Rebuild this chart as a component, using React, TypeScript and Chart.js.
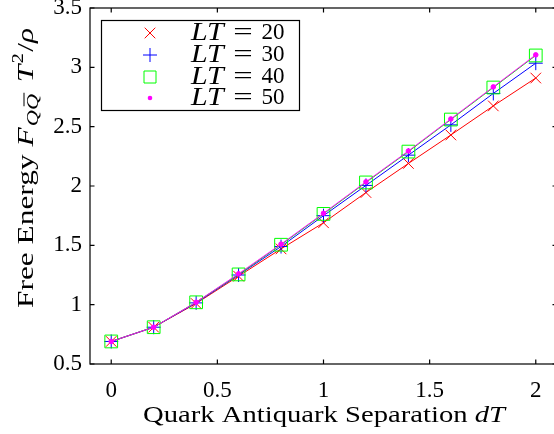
import React, { useEffect, useRef } from "react";
import { Chart, registerables } from "chart.js";

Chart.register(...registerables);

const separations = [0, 0.2, 0.4, 0.6, 0.8, 1.0, 1.2, 1.4, 1.6, 1.8, 2.0];
const energyLT20 = [0.69, 0.81, 1.01, 1.24, 1.47, 1.69, 1.945, 2.19, 2.43, 2.675, 2.91];
const energyLT30 = [0.69, 0.81, 1.015, 1.25, 1.49, 1.75, 2.005, 2.26, 2.515, 2.78, 3.035];
const energyLT40 = [0.69, 0.81, 1.02, 1.255, 1.505, 1.765, 2.03, 2.29, 2.56, 2.83, 3.1];
const energyLT50 = [0.69, 0.81, 1.02, 1.26, 1.51, 1.77, 2.035, 2.295, 2.565, 2.835, 3.105];
const seriesLT = ["20", "30", "40", "50"];
const xTicks = [0, 0.5, 1, 1.5, 2];
const yTicks = [0.5, 1, 1.5, 2, 2.5, 3, 3.5];

const FONT = "'Liberation Serif', 'Times New Roman', serif";
const COLORS = ["#ff0000", "#0000ff", "#00ff00", "#ff00ff"];

function drawMarker(ctx: CanvasRenderingContext2D, kind: number, x: number, y: number) {
  ctx.save();
  ctx.strokeStyle = COLORS[kind];
  ctx.fillStyle = COLORS[kind];
  ctx.lineWidth = 1;
  ctx.beginPath();
  if (kind === 0) {
    const h = 5.3;
    ctx.moveTo(x - h, y - h); ctx.lineTo(x + h, y + h);
    ctx.moveTo(x - h, y + h); ctx.lineTo(x + h, y - h);
    ctx.stroke();
  } else if (kind === 1) {
    const h = 7;
    ctx.moveTo(x - h, y); ctx.lineTo(x + h, y);
    ctx.moveTo(x, y - h); ctx.lineTo(x, y + h);
    ctx.stroke();
  } else if (kind === 2) {
    const h = 6;
    ctx.rect(x - h, y - h, 2 * h, 2 * h);
    ctx.stroke();
  } else {
    ctx.arc(x, y, 2.3, 0, Math.PI * 2);
    ctx.fill();
  }
  ctx.restore();
}

function stretchText(ctx: CanvasRenderingContext2D, t: string, x: number, y: number, sx: number) {
  ctx.save();
  ctx.translate(x, y);
  ctx.scale(sx, 1);
  ctx.fillText(t, 0, 0);
  ctx.restore();
}

const decorPlugin = {
  id: "decor",
  afterDraw(chart: any) {
    const ctx: CanvasRenderingContext2D = chart.ctx;
    const { left, right, top, bottom } = chart.chartArea;
    const xs = chart.scales.x;
    const ys = chart.scales.y;
    ctx.save();
    // box
    ctx.strokeStyle = "#000";
    ctx.lineWidth = 1.2;
    ctx.strokeRect(left, top, right - left, bottom - top);
    // inward ticks
    ctx.beginPath();
    const tl = 4.5;
    xTicks.forEach((v) => {
      const px = xs.getPixelForValue(v);
      ctx.moveTo(px, bottom); ctx.lineTo(px, bottom - tl);
      ctx.moveTo(px, top); ctx.lineTo(px, top + tl);
    });
    yTicks.forEach((v) => {
      const py = ys.getPixelForValue(v);
      ctx.moveTo(left, py); ctx.lineTo(left + tl, py);
      ctx.moveTo(right, py); ctx.lineTo(right - tl, py);
    });
    ctx.stroke();

    // legend
    ctx.fillStyle = "#fff";
    ctx.fillRect(101.5, 20.5, 198, 90);
    ctx.strokeStyle = "#000";
    ctx.lineWidth = 1.2;
    ctx.strokeRect(101.5, 20.5, 198, 90);
    const rows = [33, 55, 77, 98];
    ctx.fillStyle = "#000";
    ctx.textBaseline = "middle";
    seriesLT.forEach((lab, i) => {
      const y = rows[i];
      drawMarker(ctx, i, 150, y);
      ctx.textAlign = "left";
      ctx.font = `italic 25px ${FONT}`;
      stretchText(ctx, "L", 191, y, 1.2);
      stretchText(ctx, "T", 207, y, 1.2);
      ctx.font = `23px ${FONT}`;
      ctx.textAlign = "center";
      stretchText(ctx, "=", 243, y, 1.5);
      ctx.textAlign = "left";
      stretchText(ctx, lab, 261.5, y, 1.0);
    });

    // x title
    ctx.textBaseline = "alphabetic";
    ctx.textAlign = "left";
    const xt1 = "Quark Antiquark Separation ";
    const XF = 24;
    ctx.font = `${XF}px ${FONT}`;
    const w1 = ctx.measureText(xt1).width;
    ctx.font = `italic ${XF}px ${FONT}`;
    const w2 = ctx.measureText("dT").width;
    const sx = 362 / (w1 + w2);
    ctx.save();
    ctx.translate(324 - 181, 422);
    ctx.scale(sx, 1);
    ctx.font = `${XF}px ${FONT}`;
    ctx.fillText(xt1, 0, 0);
    ctx.font = `italic ${XF}px ${FONT}`;
    ctx.fillText("dT", w1, 0);
    ctx.restore();

    // y title (rotated)
    type Part = { t: string; f: string; dy: number; bar?: boolean; gap?: number };
    const parts: Part[] = [
      { t: "Free Energy ", f: `24px ${FONT}`, dy: 0 },
      { t: "F", f: `italic 24px ${FONT}`, dy: 0, gap: 1 },
      { t: "Q", f: `italic 17px ${FONT}`, dy: 5 },
      { t: "Q", f: `italic 17px ${FONT}`, dy: 5, bar: true, gap: 9 },
      { t: "T", f: `italic 24px ${FONT}`, dy: 0, gap: 1 },
      { t: "2", f: `16px ${FONT}`, dy: -10, gap: 1 },
      { t: "/", f: `24px ${FONT}`, dy: 0 },
      { t: "\u03c1", f: `italic 24px ${FONT}`, dy: 0 },
    ];
    let total = 0;
    const widths = parts.map((p) => {
      ctx.font = p.f;
      const w = ctx.measureText(p.t).width + (p.gap || 0);
      total += w;
      return w;
    });
    const sy = 280 / total;
    ctx.save();
    ctx.translate(33, 168);
    ctx.rotate(-Math.PI / 2);
    ctx.scale(sy, 1);
    let cx = -total / 2;
    parts.forEach((p, i) => {
      ctx.font = p.f;
      ctx.fillText(p.t, cx, p.dy);
      if (p.bar) {
        const w = ctx.measureText(p.t).width;
        ctx.beginPath();
        ctx.lineWidth = 1;
        ctx.moveTo(cx + 3, p.dy - 14);
        ctx.lineTo(cx + w + 1, p.dy - 14);
        ctx.stroke();
      }
      cx += widths[i];
    });
    ctx.restore();
    ctx.restore();
  },
};

export default function App() {
  const ref = useRef<HTMLCanvasElement | null>(null);
  useEffect(() => {
    if (!ref.current) return;
    const allSeries = [energyLT20, energyLT30, energyLT40, energyLT50];
    const styles = [
      { pointStyle: "crossRot", radius: 7.5 },
      { pointStyle: "cross", radius: 7 },
      { pointStyle: "rect", radius: 9 },
      { pointStyle: "circle", radius: 2.3 },
    ];
    const chart = new Chart(ref.current, {
      type: "line",
      data: {
        datasets: allSeries.map((s, i) => ({
          label: "LT = " + seriesLT[i],
          data: s.map((v, j) => ({ x: separations[j], y: v })),
          borderColor: COLORS[i],
          backgroundColor: i === 3 ? COLORS[i] : "rgba(0,0,0,0)",
          pointBorderColor: COLORS[i],
          pointBackgroundColor: i === 3 ? COLORS[i] : "rgba(0,0,0,0)",
          borderWidth: 1,
          pointBorderWidth: 1,
          pointStyle: styles[i].pointStyle as any,
          pointRadius: styles[i].radius,
          pointHoverRadius: styles[i].radius,
          tension: 0,
          fill: false,
          order: 3 - i,
        })),
      },
      plugins: [decorPlugin],
      options: {
        animation: false,
        responsive: false,
        events: [],
        layout: { autoPadding: false, padding: { left: 0, top: 8, right: 1, bottom: 0 } },
        plugins: { legend: { display: false }, tooltip: { enabled: false } },
        scales: {
          x: {
            type: "linear",
            min: -0.1,
            max: 2.1,
            grid: { display: false, drawTicks: false },
            border: { display: false },
            afterBuildTicks: (s: any) => {
              s.ticks = xTicks.map((v) => ({ value: v }));
            },
            afterFit: (s: any) => {
              s.height = 70;
              s.paddingLeft = 0;
              s.paddingRight = 0;
            },
            ticks: {
              padding: 13,
              color: "#000",
              font: { family: FONT, size: 23 },
              maxRotation: 0,
              autoSkip: false,
              callback: (v: any) => String(v),
            },
          },
          y: {
            type: "linear",
            min: 0.5,
            max: 3.5,
            grid: { display: false, drawTicks: false },
            border: { display: false },
            afterBuildTicks: (s: any) => {
              s.ticks = yTicks.map((v) => ({ value: v }));
            },
            afterFit: (s: any) => {
              s.width = 90;
              s.paddingTop = 0;
              s.paddingBottom = 0;
            },
            ticks: {
              padding: 8,
              color: "#000",
              autoSkip: false,
              font: { family: FONT, size: 23 },
              callback: (v: any) => String(v),
            },
          },
        },
      },
    });
    return () => chart.destroy();
  }, []);
  return (
    <div style={{ position: "fixed", left: 0, top: 0, width: 554, height: 434, overflow: "hidden", background: "#fff" }}>
      <canvas ref={ref} width={558} height={434} style={{ display: "block", width: 558, height: 434 }} />
    </div>
  );
}
